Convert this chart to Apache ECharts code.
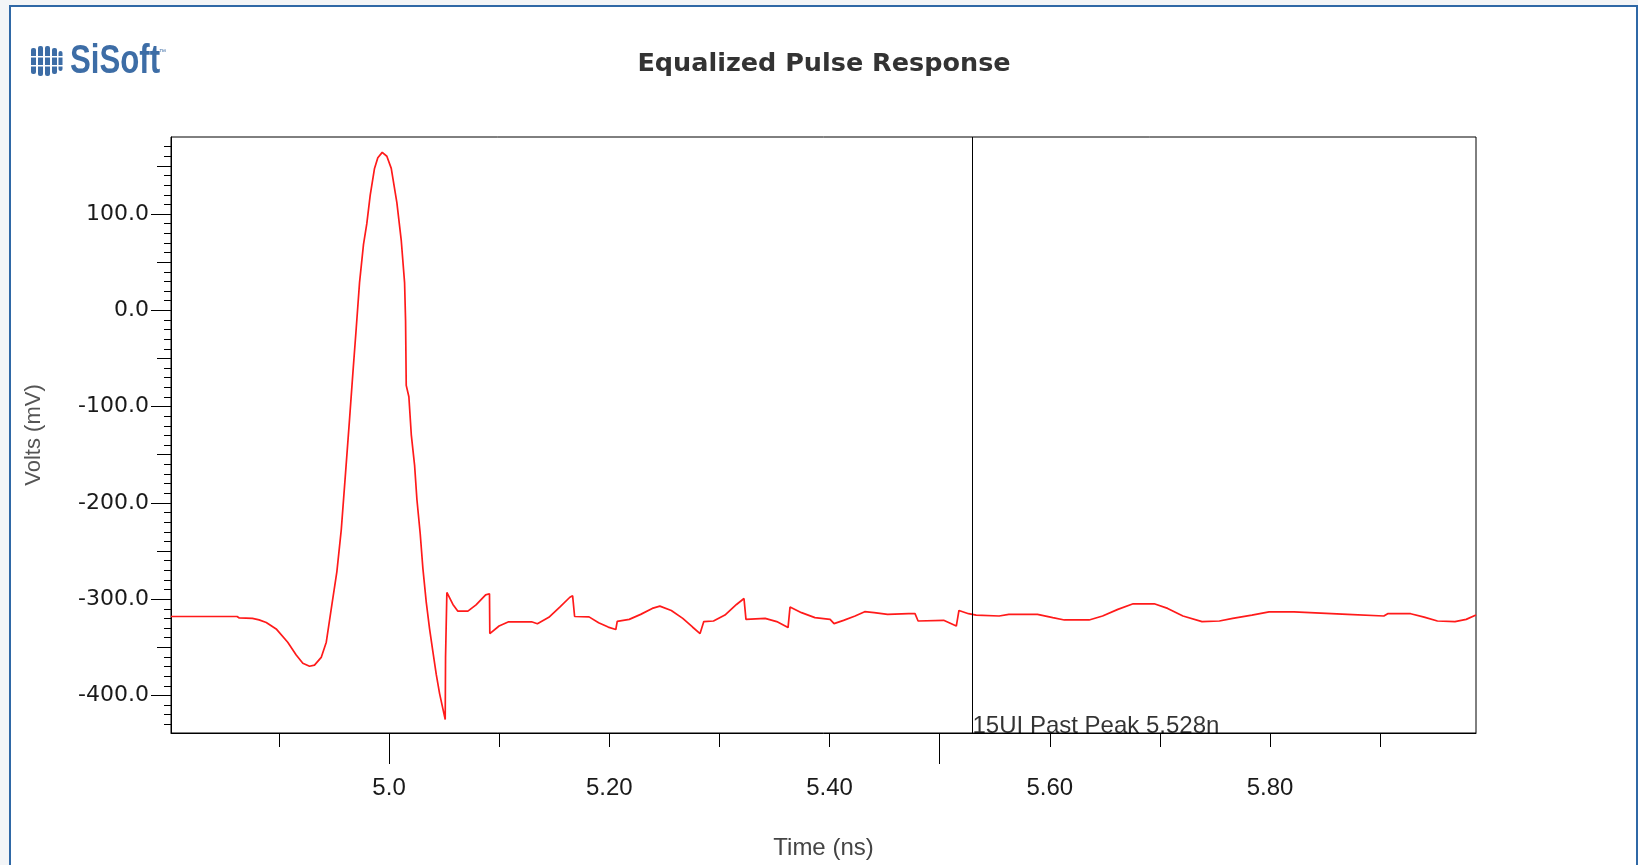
<!DOCTYPE html>
<html>
<head>
<meta charset="utf-8">
<script src="https://cdn.jsdelivr.net/npm/echarts@6/dist/echarts.min.js"></script>
<style>
  html, body { margin: 0; padding: 0; background: #f3f5f7; }
  #chart { width: 1638px; height: 865px; }
</style>
</head>
<body>
<div id="chart"></div>
<script>
// Equalized pulse response samples: time (ns) and amplitude (mV)
const timeNs = [
  4.802, 4.862, 4.864, 4.876, 4.882, 4.8885, 4.8975, 4.908, 4.9157, 4.9217,
  4.9278, 4.9323, 4.9384, 4.943, 4.9484, 4.9526, 4.9566, 4.9605, 4.9641, 4.9671,
  4.9702, 4.9732, 4.9768, 4.9798, 4.9829, 4.9868, 4.9898, 4.9938, 4.998, 5.002,
  5.0071, 5.0111, 5.0141, 5.015, 5.0156, 5.018, 5.0202, 5.0232, 5.0253, 5.0283,
  5.0307, 5.0338, 5.0368, 5.0398, 5.0429, 5.0459, 5.0489, 5.051, 5.0513, 5.0525,
  5.058, 5.0625, 5.0716, 5.079, 5.0877, 5.0912, 5.0915, 5.0999, 5.1086, 5.1294,
  5.1347, 5.1451, 5.1555, 5.1642, 5.1667, 5.1685, 5.1816, 5.1903, 5.199, 5.2059,
  5.2072, 5.2181, 5.2285, 5.239, 5.2459, 5.2563, 5.2667, 5.2755, 5.2824, 5.2858,
  5.2946, 5.305, 5.3155, 5.3223, 5.3241, 5.3415, 5.352, 5.3623, 5.3641, 5.3745,
  5.3867, 5.4005, 5.4041, 5.4127, 5.4232, 5.4319, 5.4405, 5.4527, 5.4718, 5.4776,
  5.4804, 5.5036, 5.5151, 5.5175, 5.5262, 5.5331, 5.554, 5.5628, 5.5888, 5.6027,
  5.6132, 5.6357, 5.6479, 5.6618, 5.6757, 5.6948, 5.707, 5.7209, 5.7382, 5.754,
  5.7661, 5.7835, 5.7991, 5.8217, 5.8234, 5.8703, 5.8721, 5.9033, 5.9068, 5.9277,
  5.9399, 5.952, 5.9679, 5.9781, 5.987
];
const voltsMv = [
  -318, -318, -319.5, -320, -321.5, -324.2, -330.9, -344.7, -357.9, -366.5,
  -369.7, -368.5, -360.5, -344.7, -303.3, -271.6, -228, -168.8, -113.5, -66,
  -18.6, 28.8, 68.4, 90, 119.7, 147.4, 158.5, 164, 160, 147.4,
  111.9, 72.3, 28.8, -10.7, -77.9, -89.8, -129.3, -161, -196.5, -232.1,
  -267.7, -303.3, -330.9, -354.6, -378.4, -398.1, -414, -425, -360.5, -293,
  -305.5, -312.5, -312.5, -306, -295.5, -294.4, -335.7, -327.9, -323.5, -323.5,
  -325.5, -318.8, -307.8, -298, -296.5, -318, -318.4, -324.4, -329, -331.5,
  -323, -321, -315.8, -309.6, -307.2, -311.7, -319.9, -328.9, -335.7, -323.3,
  -322.7, -316.5, -305.5, -299.3, -321, -320, -323.3, -329.5, -308.2, -314,
  -319.2, -321, -325.4, -322, -317.5, -313, -314, -315.8, -315.1, -315.1,
  -322.7, -322, -327.9, -311.7, -315.1, -316.5, -317.5, -315.8, -315.8, -319.2,
  -321.6, -321.6, -317.5, -310.6, -304.8, -304.8, -309.6, -317.5, -323.3, -322.7,
  -319.9, -316.5, -313.2, -313.2, -315.1, -315.8, -317.5, -317.5, -315.1, -315.1,
  -318.6, -322.7, -323.3, -321, -316.5
];

// Cursor placed 15 UI after the main peak
const markerNs = 5.528;
const markerText = '15UI Past Peak ' + markerNs + 'n';

// Axis extents
const xMin = 4.802, xMax = 5.987;
const yMin = -439, yMax = 180;

// Tick positions and tick labels
const xLabelValues = [5.0, 5.2, 5.4, 5.6, 5.8];
const xLabelTexts = ['5.0', '5.20', '5.40', '5.60', '5.80'];
const xLongTicks = [5.0, 5.5];
const xShortTicks = [4.9, 5.1, 5.2, 5.3, 5.4, 5.6, 5.7, 5.8, 5.9];
const yMajorTicks = [-400, -300, -200, -100, 0, 100];
const yMediumTicks = [-350, -250, -150, -50, 50, 150];
const yMinorTicks = [];
for (let v = -430; v <= 170; v += 10) yMinorTicks.push(v);

const chart = echarts.init(document.getElementById('chart'), null, { renderer: 'canvas' });

const tickFont = "'DejaVu Sans', sans-serif";
const plainFont = "'Liberation Sans', Arial, sans-serif";
const logoBlue = '#3d6da6';

function yAxisLayer(ticks, len, withLabels) {
  return {
    type: 'value', position: 'left', min: yMin, max: yMax,
    axisLine: { show: withLabels, onZero: false, lineStyle: { color: '#000', width: 1 } },
    axisTick: { show: true, inside: false, length: len, customValues: ticks,
                lineStyle: { color: '#000', width: 1 } },
    axisLabel: withLabels ? {
      show: true, customValues: ticks, margin: 22,
      formatter: v => v.toFixed(1),
      padding: [4, 0, 0, 0],
      color: '#1a1a1a', fontFamily: tickFont, fontSize: 22
    } : { show: false },
    splitLine: { show: false },
    name: withLabels ? 'Volts (mV)' : '',
    nameLocation: 'middle', nameGap: 126, nameRotate: 90,
    nameTextStyle: { color: '#555', fontFamily: plainFont, fontSize: 22 }
  };
}

function xAxisLayer(ticks, len, withLabels) {
  return {
    type: 'value', position: 'bottom', min: xMin, max: xMax,
    axisLine: { show: withLabels, onZero: false, lineStyle: { color: '#000', width: 1 } },
    axisTick: { show: true, inside: false, length: len, customValues: ticks,
                lineStyle: { color: '#000', width: 1 } },
    axisLabel: withLabels ? {
      show: true, customValues: xLabelValues, margin: 43,
      formatter: v => {
        const i = xLabelValues.findIndex(x => Math.abs(x - v) < 1e-6);
        return i >= 0 ? xLabelTexts[i] : '';
      },
      color: '#1a1a1a', fontFamily: plainFont, fontSize: 24
    } : { show: false },
    splitLine: { show: false },
    name: withLabels ? 'Time (ns)' : '',
    nameLocation: 'middle', nameGap: 103,
    nameTextStyle: { color: '#444', fontFamily: plainFont, fontSize: 24 }
  };
}

const option = {
  animation: false,
  backgroundColor: '#ffffff',
  title: {
    text: 'Equalized Pulse Response',
    left: 819, top: 46, textAlign: 'center',
    textStyle: { color: '#333', fontFamily: tickFont, fontWeight: 'bold', fontSize: 25.5 }
  },
  grid: {
    left: 171, top: 137, width: 1305, height: 599,
    show: true, borderColor: '#000', borderWidth: 1, backgroundColor: '#fff'
  },
  xAxis: [
    xAxisLayer(xLongTicks, 31, true),
    xAxisLayer(xShortTicks, 14, false)
  ],
  yAxis: [
    yAxisLayer(yMajorTicks, 20, true),
    yAxisLayer(yMediumTicks, 14, false),
    yAxisLayer(yMinorTicks, 7, false)
  ],
  series: [
    {
      name: 'Equalized Pulse',
      type: 'line',
      xAxisIndex: 0, yAxisIndex: 0,
      data: timeNs.map((t, i) => [t, voltsMv[i]]),
      showSymbol: false,
      smooth: false,
      clip: true,
      lineStyle: { color: '#ff1a1a', width: 1.7 },
      itemStyle: { color: '#ff1a1a' },
      z: 3
    },
    {
      name: 'Cursor',
      type: 'scatter',
      xAxisIndex: 0, yAxisIndex: 0,
      data: [[markerNs, yMin]],
      symbolSize: 0,
      silent: true,
      label: {
        show: true, position: 'top', distance: 0, align: 'left',
        offset: [2, 5],
        formatter: markerText,
        color: '#000', fontFamily: plainFont, fontSize: 24
      },
      markLine: {
        silent: true,
        symbol: ['none', 'none'],
        label: { show: false },
        lineStyle: { color: '#000', width: 1, type: 'solid' },
        data: [{ xAxis: markerNs }]
      },
      z: 4
    }
  ],
  graphic: [
    // page frame
    { type: 'rect', left: 0, top: 0, z: -10,
      shape: { width: 1638, height: 865 }, style: { fill: '#f3f5f7' } },
    { type: 'rect', z: -9,
      shape: { x: 10, y: 6, width: 1627, height: 880 },
      style: { fill: '#ffffff', stroke: '#2f68a6', lineWidth: 2 } },
    // SiSoft logo
    {
      type: 'group', z: 10,
      children: [
        { type: 'rect', shape: { x: 31, y: 48, width: 5, height: 26, r: 2 }, style: { fill: logoBlue } },
        { type: 'rect', shape: { x: 38, y: 46, width: 5, height: 30, r: 2 }, style: { fill: logoBlue } },
        { type: 'rect', shape: { x: 45, y: 46, width: 5, height: 30, r: 2 }, style: { fill: logoBlue } },
        { type: 'rect', shape: { x: 52, y: 48, width: 5, height: 26, r: 2 }, style: { fill: logoBlue } },
        { type: 'rect', shape: { x: 58.5, y: 51, width: 4, height: 20, r: 2 }, style: { fill: logoBlue } },
        { type: 'rect', shape: { x: 29, y: 56, width: 36, height: 1.5 }, style: { fill: '#ffffff' } },
        { type: 'rect', shape: { x: 29, y: 65, width: 36, height: 1.5 }, style: { fill: '#ffffff' } },
        {
          type: 'text', x: 70, y: 42, scaleX: 0.78,
          style: { text: 'SiSoft', fill: logoBlue, font: "bold 40px 'Liberation Sans', Arial, sans-serif",
                   textVerticalAlign: 'top' }
        },
        {
          type: 'text', x: 159, y: 49,
          style: { text: '\u2122', fill: logoBlue, font: "7px 'Liberation Sans', Arial, sans-serif",
                   textVerticalAlign: 'top' }
        }
      ]
    }
  ]
};

chart.setOption(option);
</script>
</body>
</html>
